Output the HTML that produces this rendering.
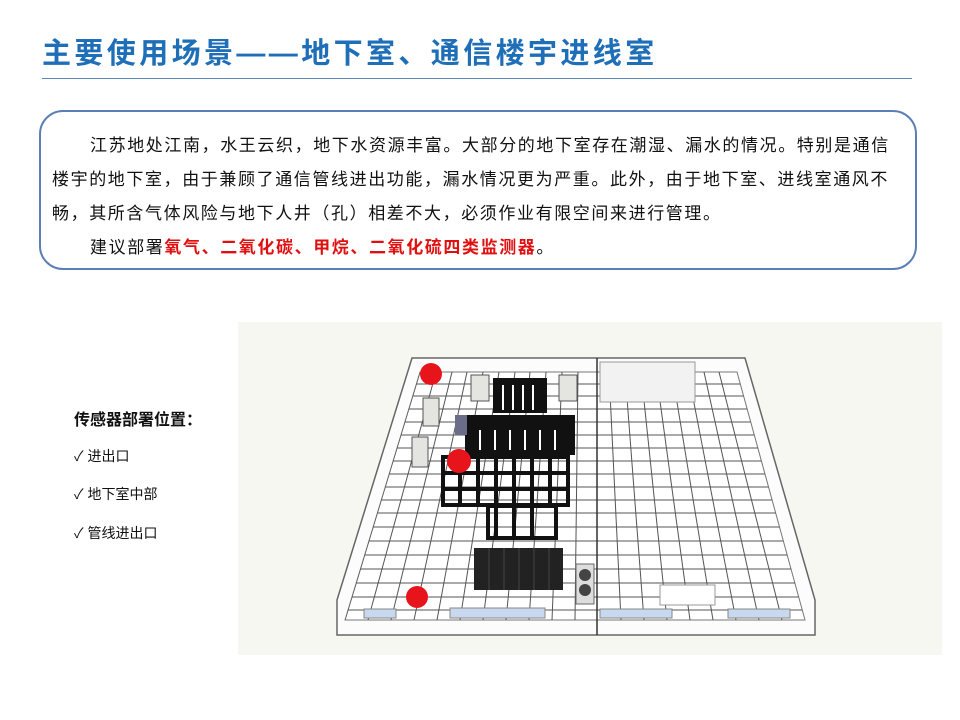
<!DOCTYPE html>
<html><head><meta charset="utf-8"><style>
body{margin:0;width:960px;height:720px;background:#fff;position:relative;overflow:hidden;font-family:"Liberation Sans","Noto Sans CJK SC",sans-serif;}
.t{position:absolute;left:42px;top:30px;font-size:29px;font-weight:bold;color:#1f6fb8;white-space:nowrap;letter-spacing:3.4px;}
.hr{position:absolute;left:42px;top:78px;width:870px;height:1px;background:#5a86bb;}
.box{position:absolute;left:39px;top:110px;width:874px;height:156px;border:2px solid #5b7fb5;border-radius:24px;}
.ln{position:absolute;font-size:17px;white-space:nowrap;color:#111;letter-spacing:1.6px;}
.red{color:#e01010;font-weight:bold;}
.s{position:absolute;left:74px;font-size:14px;white-space:nowrap;color:#111;}
</style></head><body>
<div class="t">主要使用场景——地下室、通信楼宇进线室</div>
<div class="hr"></div>
<div class="box"></div>
<div class="ln" style="left:90px;top:131px">江苏地处江南，水王云织，地下水资源丰富。大部分的地下室存在潮湿、漏水的情况。特别是通信</div>
<div class="ln" style="left:52px;top:165px">楼宇的地下室，由于兼顾了通信管线进出功能，漏水情况更为严重。此外，由于地下室、进线室通风不</div>
<div class="ln" style="left:52px;top:199px">畅，其所含气体风险与地下人井（孔）相差不大，必须作业有限空间来进行管理。</div>
<div class="ln" style="left:90px;top:233px">建议部署<span class="red">氧气、二氧化碳、甲烷、二氧化硫四类监测器</span>。</div>
<div class="s" style="top:406px;font-size:16px;font-weight:bold">传感器部署位置：</div>
<div class="s" style="top:446px">✓ 进出口</div>
<div class="s" style="top:484px">✓ 地下室中部</div>
<div class="s" style="top:523px">✓ 管线进出口</div>
<svg style="position:absolute;left:0;top:0" width="960" height="720">
<defs><clipPath id="c"><polygon points="420,372 737,372 805,620 345,620"/></clipPath></defs>
<rect x="238" y="322" width="704" height="333" fill="#f7f7f2"/>
<polygon points="412,358 745,358 815,600 815,635 337,635 337,600" fill="#fcfcfc" stroke="#666" stroke-width="1.5"/>
<polygon points="420,372 737,372 805,620 345,620" fill="#fff" stroke="#777"/>
<g clip-path="url(#c)" stroke="#555" stroke-width="1">
<line x1="420" y1="372" x2="345" y2="620"/><line x1="436" y1="372" x2="368" y2="620"/><line x1="452" y1="372" x2="391" y2="620"/><line x1="467" y1="372" x2="414" y2="620"/><line x1="483" y1="372" x2="437" y2="620"/><line x1="499" y1="372" x2="460" y2="620"/><line x1="515" y1="372" x2="483" y2="620"/><line x1="530" y1="372" x2="506" y2="620"/><line x1="546" y1="372" x2="529" y2="620"/><line x1="562" y1="372" x2="552" y2="620"/><line x1="578" y1="372" x2="575" y2="620"/><line x1="609" y1="372" x2="621" y2="620"/><line x1="625" y1="372" x2="644" y2="620"/><line x1="641" y1="372" x2="667" y2="620"/><line x1="656" y1="372" x2="690" y2="620"/><line x1="672" y1="372" x2="713" y2="620"/><line x1="688" y1="372" x2="736" y2="620"/><line x1="704" y1="372" x2="759" y2="620"/><line x1="719" y1="372" x2="782" y2="620"/>
<line x1="300" y1="384" x2="850" y2="384"/><line x1="300" y1="396" x2="850" y2="396"/><line x1="300" y1="409" x2="850" y2="409"/><line x1="300" y1="422" x2="850" y2="422"/><line x1="300" y1="435" x2="850" y2="435"/><line x1="300" y1="448" x2="850" y2="448"/><line x1="300" y1="461" x2="850" y2="461"/><line x1="300" y1="474" x2="850" y2="474"/><line x1="300" y1="487" x2="850" y2="487"/><line x1="300" y1="500" x2="850" y2="500"/><line x1="300" y1="513" x2="850" y2="513"/><line x1="300" y1="527" x2="850" y2="527"/><line x1="300" y1="541" x2="850" y2="541"/><line x1="300" y1="555" x2="850" y2="555"/><line x1="300" y1="569" x2="850" y2="569"/><line x1="300" y1="583" x2="850" y2="583"/><line x1="300" y1="597" x2="850" y2="597"/><line x1="300" y1="610" x2="850" y2="610"/>
</g>
<line x1="597" y1="358" x2="597" y2="635" stroke="#333" stroke-width="1.5"/>
<rect x="600" y="362" width="95" height="40" fill="#f2f2f2" stroke="#999"/>
<rect x="660" y="585" width="55" height="20" fill="#fff" stroke="#999"/>
<rect x="364" y="609" width="32" height="9" fill="#c8d8ef" stroke="#888"/>
<rect x="450" y="608" width="95" height="10" fill="#c8d8ef" stroke="#888"/>
<rect x="600" y="609" width="72" height="9" fill="#c8d8ef" stroke="#888"/>
<rect x="728" y="609" width="62" height="9" fill="#c8d8ef" stroke="#888"/>
<g fill="#e4e4e0" stroke="#555"><rect x="471" y="375" width="18" height="26"/><rect x="559" y="375" width="18" height="26"/><rect x="423" y="398" width="16" height="28"/><rect x="412" y="437" width="16" height="30"/></g>
<rect x="493" y="378" width="54" height="35" fill="#111"/>
<rect x="465" y="415" width="110" height="40" fill="#111"/>
<rect x="455" y="415" width="12" height="20" fill="#6b6b8a"/>
<g fill="none" stroke="#111" stroke-width="4">
<rect x="443" y="457" width="125" height="16"/><rect x="443" y="473" width="125" height="16"/><rect x="443" y="489" width="125" height="16"/>
<rect x="488" y="506" width="68" height="32"/>
<line x1="460" y1="457" x2="460" y2="505"/><line x1="478" y1="457" x2="478" y2="505"/><line x1="496" y1="457" x2="496" y2="538"/><line x1="514" y1="457" x2="514" y2="538"/><line x1="532" y1="457" x2="532" y2="538"/><line x1="550" y1="457" x2="550" y2="505"/></g>
<g stroke="#fff" stroke-width="2"><line x1="503" y1="385" x2="503" y2="410"/><line x1="513" y1="385" x2="513" y2="410"/><line x1="523" y1="385" x2="523" y2="410"/><line x1="533" y1="385" x2="533" y2="410"/><line x1="480" y1="430" x2="480" y2="450"/><line x1="495" y1="430" x2="495" y2="450"/><line x1="510" y1="430" x2="510" y2="450"/><line x1="525" y1="430" x2="525" y2="450"/><line x1="540" y1="430" x2="540" y2="450"/><line x1="555" y1="430" x2="555" y2="450"/></g>
<rect x="474" y="548" width="89" height="42" fill="#222"/>
<g stroke="#444"><line x1="489" y1="548" x2="489" y2="590"/><line x1="504" y1="548" x2="504" y2="590"/><line x1="519" y1="548" x2="519" y2="590"/><line x1="534" y1="548" x2="534" y2="590"/><line x1="549" y1="548" x2="549" y2="590"/></g>
<rect x="576" y="564" width="18" height="40" fill="#ddd" stroke="#666"/>
<circle cx="585" cy="575" r="6" fill="#444"/><circle cx="585" cy="590" r="6" fill="#444"/>
<g fill="#e8141c"><circle cx="431" cy="374" r="11"/><circle cx="459" cy="461" r="12"/><circle cx="417" cy="597" r="11"/></g>
</svg>
</body></html>
